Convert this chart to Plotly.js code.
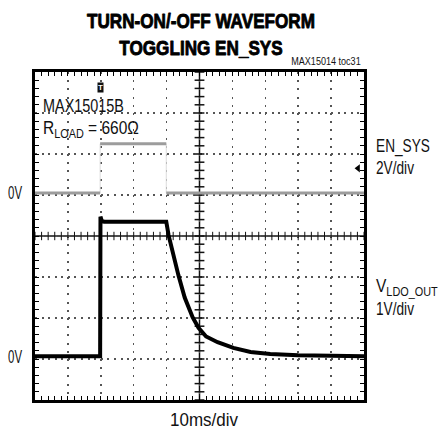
<!DOCTYPE html>
<html><head><meta charset="utf-8">
<script src="https://cdn.plot.ly/plotly-3.0.1.min.js"></script>
<style>html,body{margin:0;padding:0;background:#fff}#chart{width:438px;height:434px}</style>
</head><body><div id="chart"></div>
<script>
// ---- data (time in ms, 10 ms/div) ----
const enTime = [0, 19.8, 19.8, 39.9, 39.9, 100];
const enVolt = [0, 0, 2.4, 2.4, 0, 0];            // EN_SYS, 2 V/div
const ldoTime = [0, 19.8, 19.9, 20.3, 21.0, 39.9, 40.6, 42.0, 43.6, 45.5, 47.9, 49.7, 52.0, 55.5, 60.3, 65.5, 71.5, 80, 90, 100];
const ldoVolt = [0, 0, 3.40, 3.30, 3.28, 3.28, 2.95, 2.47, 1.97, 1.43, 0.95, 0.69, 0.48, 0.34, 0.20, 0.10, 0.05, 0.02, 0.0, 0.0]; // V_LDO_OUT, 1 V/div
const triggerTime = 19.8;
const triggerLevel = 1.2;   // V on EN_SYS
const xTickLabel = '10ms/div';

// ---- layout helpers (pixel -> paper) ----
const L = 35, R = 364, T = 72, B = 400;
const X = p => (p - L) / (R - L);
const Y = p => (B - p) / (B - T);
const DIVS_Y = 8;
const en0 = 5.05, ldo0 = 1.07;    // 0 V positions in divisions from bottom
const enScale = 2, ldoScale = 1;

const FONT = '"Liberation Sans", Arial, sans-serif';

// edge/level split for EN_SYS (edges drawn faint)
const enLvlX = [], enLvlY = [];
for (let i = 0; i < enTime.length; i++) {
  if (i > 0 && enTime[i] === enTime[i-1]) { enLvlX.push(null); enLvlY.push(null); }
  enLvlX.push(enTime[i]); enLvlY.push(enVolt[i]);
}

// center cross tick marks
const hx = [], hy = [], vx = [], vy = [];
for (let i = 0; i <= 50; i++) { hx.push(i * 2); hy.push(4); }
for (let i = 0; i <= 40; i++) { vy.push(i * 0.2); vx.push(50); }

const traces = [
  {x: hx, y: hy, xaxis: 'x', yaxis: 'y', mode: 'markers', hoverinfo: 'skip',
   marker: {symbol: 'line-ns', size: 6, line: {width: 1, color: '#111'}}},
  {x: vx, y: vy, xaxis: 'x', yaxis: 'y', mode: 'markers', hoverinfo: 'skip',
   marker: {symbol: 'line-ew', size: 7, line: {width: 1.5, color: '#111'}}},
  {x: enTime, y: enVolt, yaxis: 'y2', mode: 'lines', line: {color: '#dcdcdc', width: 1}},
  {x: enLvlX, y: enLvlY, yaxis: 'y2', mode: 'lines', line: {color: '#9c9c9c', width: 3}},
  {x: ldoTime, y: ldoVolt, yaxis: 'y3', mode: 'lines', line: {color: '#000', width: 4}},
  {x: [98.2], y: [triggerLevel], yaxis: 'y2', mode: 'markers', cliponaxis: false,
   marker: {symbol: 'triangle-left', size: 7, color: '#000'}}
];

const ann = (text, x, y, xa, size) => ({
  text, x: X(x), y: Y(y), xref: 'paper', yref: 'paper', xanchor: xa, yanchor: 'middle',
  showarrow: false, font: {family: FONT, size, color: '#111'}
});

// annotation texts, and the width (px) each is condensed to (the original uses a condensed face)
const annotations = [
  ann('MAX15014 toc31', 363, 62, 'right', 10),
  ann('MAX15015B', 41, 106, 'left', 18),
  ann('R<sub>LOAD</sub> = 660Ω', 41, 129, 'left', 18),
  ann('0V', 24, 193, 'right', 18),
  ann('0V', 24, 357, 'right', 18),
  ann('EN_SYS', 374, 146, 'left', 18),
  ann('2V/div', 374, 168, 'left', 18),
  ann('V<sub>LDO_OUT</sub>', 374, 287, 'left', 18),
  ann('1V/div', 374, 309, 'left', 18),
  ann(xTickLabel, 204, 420, 'center', 18),
  {text: '<b>T</b>', x: triggerTime, xref: 'x', y: Y(82), yref: 'paper', showarrow: false,
   font: {family: FONT, size: 8, color: '#fff'}, bgcolor: '#111', borderpad: 0}
];
const fitWidths = [70, 81, 96, 14, 14, 54, 38, 62, 38, 68, null];
const titleWidth = 228;

const layout = {
  width: 438, height: 434,
  margin: {l: L, r: 438 - R, t: T, b: 434 - B, pad: 0},
  paper_bgcolor: '#fff', plot_bgcolor: '#fff',
  showlegend: false,
  title: {text: '<b>TURN-ON/-OFF WAVEFORM<br>TOGGLING EN_SYS</b>', x: X(201), xref: 'paper', xanchor: 'center',
          y: 1 - 28 / 434, yref: 'container', yanchor: 'top',
          font: {family: FONT, size: 21, color: '#000'}},
  xaxis: {range: [0, 100], dtick: 10, showticklabels: false, showline: true, linewidth: 3, linecolor: '#000',
          mirror: 'ticks', ticks: 'inside', ticklen: 4, tickcolor: '#000', tickwidth: 1,
          minor: {dtick: 2, ticks: 'inside', ticklen: 4, tickcolor: '#000', showgrid: false},
          showgrid: true, gridcolor: '#555', gridwidth: 1.5, griddash: '2px,6.2px', zeroline: false, fixedrange: true},
  yaxis: {range: [0, DIVS_Y], dtick: 1, showticklabels: false, showline: true, linewidth: 3, linecolor: '#000',
          mirror: 'ticks', ticks: 'inside', ticklen: 4, tickcolor: '#000', tickwidth: 1,
          minor: {dtick: 0.2, ticks: 'inside', ticklen: 4, tickcolor: '#000', showgrid: false},
          showgrid: true, gridcolor: '#555', gridwidth: 1.5, griddash: '2px,4.58px', zeroline: false, fixedrange: true},
  yaxis2: {overlaying: 'y', visible: false, range: [-en0 * enScale, (DIVS_Y - en0) * enScale]},
  yaxis3: {overlaying: 'y', visible: false, range: [-ldo0 * ldoScale, (DIVS_Y - ldo0) * ldoScale]},
  shapes: [
    {type: 'line', xref: 'x', yref: 'y', x0: 0, x1: 100, y0: 4, y1: 4, line: {color: '#111', width: 1.5}, layer: 'below'},
    {type: 'line', xref: 'x', yref: 'y', x0: 50, x1: 50, y0: 0, y1: 8, line: {color: '#111', width: 1.5}, layer: 'below'}
  ],
  annotations
};

function squeeze(el, target, anchor) {
  const bb = el.getBBox();
  if (!bb.width || !target) return;
  const f = Math.min(1, target / bb.width);
  const cx = anchor === 'left' ? bb.x : anchor === 'right' ? bb.x + bb.width : bb.x + bb.width / 2;
  const prev = el.getAttribute('transform') || '';
  el.setAttribute('transform', prev + ` translate(${cx},0) scale(${f},1) translate(${-cx},0)`);
}

Plotly.newPlot('chart', traces, layout, {displayModeBar: false, staticPlot: true}).then(gd => {
  gd.querySelectorAll('g.annotation').forEach(g => {
    const i = +g.getAttribute('data-index');
    const t = g.querySelector('text.annotation-text');
    if (t && fitWidths[i]) squeeze(t, fitWidths[i], annotations[i].xanchor);
  });
  const tt = gd.querySelector('text.gtitle');
  if (tt) {
    squeeze(tt, titleWidth, 'center');
    tt.style.stroke = '#000';
    tt.style.strokeWidth = '0.9px';
    tt.style.strokeLinejoin = 'round';
  }
});
</script></body></html>
